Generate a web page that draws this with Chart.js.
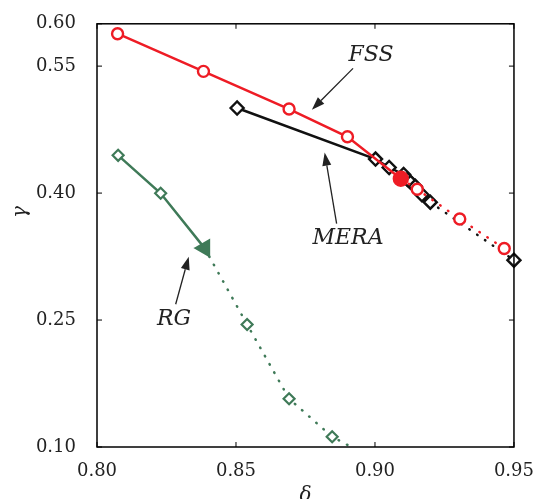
<!DOCTYPE html>
<html>
<head>
<meta charset="utf-8">
<script src="https://cdn.jsdelivr.net/npm/chart.js"></script>
<style>
  html, body { margin: 0; padding: 0; background: #fff; }
  #wrap { width: 540px; height: 499px; }
</style>
</head>
<body>
<div id="wrap"><canvas id="chart"></canvas></div>
<script>
// data
const xTicks = [0.80, 0.85, 0.90, 0.95];
const yTicks = [0.10, 0.25, 0.40, 0.55, 0.60];

const fssDelta = [0.8074, 0.8383, 0.8691, 0.8901, 0.9093, 0.9152, 0.9305, 0.9465];
const fssGamma = [0.5883, 0.5438, 0.4993, 0.4665, 0.4170, 0.4045, 0.3694, 0.3345];
const fssFilled = 4;   // crossing point, solid up to here, dotted after

const meraDelta = [0.8504, 0.9002, 0.9051, 0.9103, 0.9117, 0.9128, 0.9145, 0.9169, 0.9199, 0.9500];
const meraGamma = [0.5005, 0.4402, 0.4302, 0.4220, 0.4162, 0.4126, 0.4080, 0.3980, 0.3892, 0.3207];
const meraDashFrom = 8;

const rgDelta = [0.8076, 0.8229, 0.8387, 0.8540, 0.8691, 0.8846, 0.9000];
const rgGamma = [0.4446, 0.3998, 0.3350, 0.2448, 0.1570, 0.1121, 0.0850];
const rgFilled = 2;

// labels: [text, textX, textY, arrowFromX, arrowFromY, arrowToX, arrowToY]
const notes = [
  ['FSS',  0.8986, 0.5629, 0.8921, 0.5473, 0.8773, 0.4985],
  ['MERA', 0.8903, 0.3463, 0.8862, 0.3638, 0.8819, 0.4478],
  ['RG',   0.8277, 0.2511, 0.8283, 0.2686, 0.8330, 0.3248]
];

const RED = '#ee1c25';
const GREEN = '#3f7a58';
const BLACK = '#111';

function pts(xs, ys) {
  return xs.map((x, i) => ({ x: x, y: ys[i] }));
}

// inward ticks, box, annotations, y title
const framePlugin = {
  id: 'frame',
  afterDraw(chart) {
    const ctx = chart.ctx;
    const a = chart.chartArea;
    const xs = chart.scales.x, ys = chart.scales.y;
    ctx.save();
    ctx.strokeStyle = '#000';
    ctx.lineWidth = 1.5;
    ctx.strokeRect(a.left, a.top, a.right - a.left, a.bottom - a.top);
    ctx.lineWidth = 1;
    const L = 5;
    ctx.beginPath();
    xTicks.forEach(v => {
      const px = xs.getPixelForValue(v);
      ctx.moveTo(px, a.bottom); ctx.lineTo(px, a.bottom - L);
      ctx.moveTo(px, a.top); ctx.lineTo(px, a.top + L);
    });
    yTicks.forEach(v => {
      const py = ys.getPixelForValue(v);
      ctx.moveTo(a.left, py); ctx.lineTo(a.left + L, py);
      ctx.moveTo(a.right, py); ctx.lineTo(a.right - L, py);
    });
    ctx.stroke();

    // annotations
    ctx.fillStyle = '#222';
    ctx.strokeStyle = '#222';
    ctx.font = 'italic 22px "DejaVu Serif"';
    ctx.textAlign = 'center';
    ctx.textBaseline = 'middle';
    notes.forEach(n => {
      ctx.fillText(n[0], xs.getPixelForValue(n[1]), ys.getPixelForValue(n[2]));
      const x0 = xs.getPixelForValue(n[3]), y0 = ys.getPixelForValue(n[4]);
      const x1 = xs.getPixelForValue(n[5]), y1 = ys.getPixelForValue(n[6]);
      const ang = Math.atan2(y1 - y0, x1 - x0);
      const hl = 13, hw = 4.5;
      const bx = x1 - hl * Math.cos(ang), by = y1 - hl * Math.sin(ang);
      ctx.lineWidth = 1.3;
      ctx.beginPath();
      ctx.moveTo(x0, y0); ctx.lineTo(bx, by);
      ctx.stroke();
      ctx.beginPath();
      ctx.moveTo(x1, y1);
      ctx.lineTo(bx + hw * Math.sin(ang), by - hw * Math.cos(ang));
      ctx.lineTo(bx - hw * Math.sin(ang), by + hw * Math.cos(ang));
      ctx.closePath();
      ctx.fill();
    });

    // y axis title
    ctx.font = 'italic 20px "DejaVu Serif"';
    ctx.translate(21, 212);
    ctx.rotate(-Math.PI / 2);
    ctx.fillText('γ', 0, 0);
    ctx.restore();
  }
};

const dotted = [0.5, 9];
const clipBox = { left: 12, top: 12, right: 12, bottom: 0 };

new Chart(document.getElementById('chart'), {
  type: 'scatter',
  data: {
    datasets: [
      {
        label: 'RG',
        data: pts(rgDelta, rgGamma),
        showLine: true,
        borderColor: GREEN,
        borderWidth: 2.5,
        borderCapStyle: 'round',
        segment: { borderDash: c => c.p0DataIndex >= rgFilled ? dotted : undefined },
        pointStyle: c => c.dataIndex === rgFilled ? 'triangle' : 'rectRot',
        rotation: c => c.dataIndex === rgFilled ? -90 : 0,
        pointRadius: c => c.dataIndex === rgFilled ? 9 : 5.5,
        pointBorderWidth: 2.2,
        pointBorderColor: GREEN,
        pointBackgroundColor: c => c.dataIndex === rgFilled ? GREEN : '#fff',
        clip: clipBox,
        order: 3
      },
      {
        label: 'MERA',
        data: pts(meraDelta, meraGamma),
        showLine: true,
        borderColor: BLACK,
        borderWidth: 2.5,
        borderCapStyle: 'round',
        segment: { borderDash: c => c.p0DataIndex >= meraDashFrom ? dotted : undefined },
        pointStyle: 'rectRot',
        pointRadius: 6.5,
        pointBorderWidth: 2.4,
        pointBorderColor: BLACK,
        pointBackgroundColor: '#fff',
        clip: clipBox,
        order: 2
      },
      {
        label: 'FSS',
        data: pts(fssDelta, fssGamma),
        showLine: true,
        borderColor: RED,
        borderWidth: 2.5,
        borderCapStyle: 'round',
        segment: { borderDash: c => c.p0DataIndex >= fssFilled ? dotted : undefined },
        pointStyle: 'circle',
        pointRadius: c => c.dataIndex === fssFilled ? 7 : 5.5,
        pointBorderWidth: 2.4,
        pointBorderColor: RED,
        pointBackgroundColor: c => c.dataIndex === fssFilled ? RED : '#fff',
        clip: clipBox,
        order: 1
      }
    ]
  },
  options: {
    responsive: true,
    maintainAspectRatio: false,
    animation: false,
    layout: { padding: { top: 20, right: 20, left: 0, bottom: 0 } },
    plugins: {
      legend: { display: false },
      tooltip: { enabled: false }
    },
    scales: {
      x: {
        type: 'linear',
        min: 0.80,
        max: 0.95,
        afterBuildTicks: s => { s.ticks = xTicks.map(v => ({ value: v })); },
        afterFit: s => { s.height = 52; },
        grid: { display: false },
        border: { display: false },
        ticks: {
          padding: 6,
          color: '#222',
          font: { family: '"DejaVu Serif"', size: 18 },
          callback: v => v.toFixed(2)
        },
        title: {
          display: true,
          text: 'δ',
          color: '#222',
          font: { family: '"DejaVu Serif"', size: 20, style: 'italic' },
          padding: { top: 0, bottom: -9 }
        }
      },
      y: {
        type: 'linear',
        min: 0.10,
        max: 0.60,
        afterBuildTicks: s => { s.ticks = yTicks.map(v => ({ value: v })); },
        afterFit: s => { s.width = 97; },
        grid: { display: false },
        border: { display: false },
        ticks: {
          padding: 13,
          color: '#222',
          font: { family: '"DejaVu Serif"', size: 18 },
          callback: v => v.toFixed(2)
        }
      }
    }
  },
  plugins: [framePlugin]
});
</script>
</body>
</html>
